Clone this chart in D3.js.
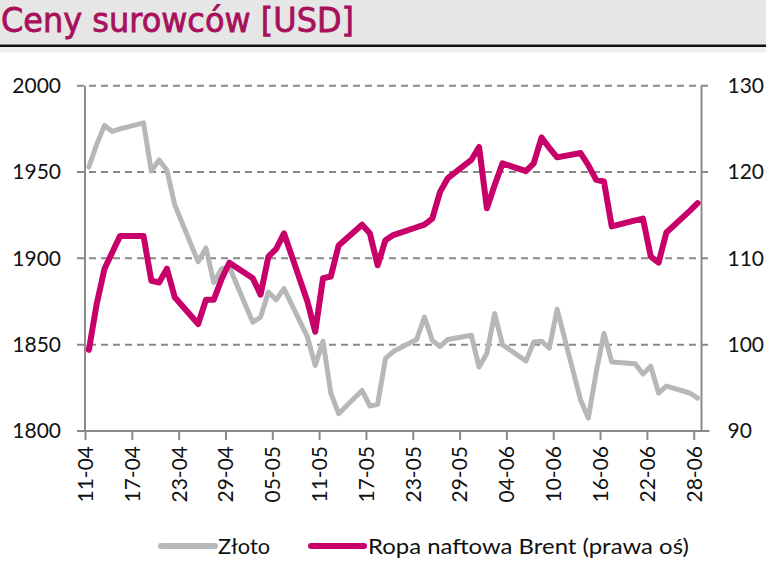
<!DOCTYPE html>
<html>
<head>
<meta charset="utf-8">
<script src="https://cdn.jsdelivr.net/npm/d3@7"></script>
<style>
  html, body { margin: 0; padding: 0; background: #fff; }
  svg { display: block; }
</style>
</head>
<body>
<svg id="chart" width="766" height="580"></svg>
<script>
// ---- data ----
const dates = [
  "2022-04-11","2022-04-12","2022-04-13","2022-04-14","2022-04-15",
  "2022-04-18","2022-04-19","2022-04-20","2022-04-21","2022-04-22",
  "2022-04-25","2022-04-26","2022-04-27","2022-04-28","2022-04-29",
  "2022-05-02","2022-05-03","2022-05-04","2022-05-05","2022-05-06",
  "2022-05-09","2022-05-10","2022-05-11","2022-05-12","2022-05-13",
  "2022-05-16","2022-05-17","2022-05-18","2022-05-19","2022-05-20",
  "2022-05-23","2022-05-24","2022-05-25","2022-05-26","2022-05-27",
  "2022-05-30","2022-05-31","2022-06-01","2022-06-02","2022-06-03",
  "2022-06-06","2022-06-07","2022-06-08","2022-06-09","2022-06-10",
  "2022-06-13","2022-06-14","2022-06-15","2022-06-16","2022-06-17",
  "2022-06-20","2022-06-21","2022-06-22","2022-06-23","2022-06-24",
  "2022-06-27","2022-06-28"
];
const gold = [
  1953, 1966, 1977, 1973.5, 1975,
  1978.5, 1950.5, 1957, 1951, 1931,
  1898, 1906, 1886, 1894, 1895,
  1863, 1866, 1880.5, 1876, 1882.5,
  1854.5, 1838, 1852, 1822, 1810,
  1823.5, 1814.5, 1815.5, 1842, 1846,
  1853, 1866, 1852.5, 1849, 1853,
  1855.5, 1837, 1845, 1868, 1850,
  1840.5, 1851.5, 1852, 1848, 1870.5,
  1818, 1807.5, 1834, 1856.5, 1840,
  1839, 1833, 1837.5, 1822, 1826,
  1822, 1819
];
const brent = [
  99.4, 104.7, 108.8, 110.7, 112.6,
  112.6, 107.4, 107.2, 108.8, 105.5,
  102.4, 105.2, 105.2, 107.6, 109.5,
  107.7, 105.8, 110.2, 111.1, 112.9,
  105.0, 101.5, 107.7, 107.9, 111.5,
  113.9, 112.9, 109.2, 112.1, 112.7,
  113.6, 113.9, 114.6, 117.7, 119.3,
  121.4, 122.9, 115.8, 118.5, 121.0,
  120.1, 121.0, 124.0, 122.8, 121.7,
  122.2, 120.8, 119.1, 118.9, 113.7,
  114.4, 114.6, 110.2, 109.5, 113.0,
  115.5, 116.4
];
const leftTicks = [1800, 1850, 1900, 1950, 2000];
const rightTicks = [90, 100, 110, 120, 130];
const xStart = "2022-04-11";
const xEnd = "2022-06-29";
const xTickStepDays = 6;
const title = "Ceny surowców [USD]";
const seriesNames = ["Złoto", "Ropa naftowa Brent (prawa oś)"];

// ---- layout ----
const W = 766, H = 580;
const plot = { left: 85, right: 701.5, top: 85.7, bottom: 431 };
const FONT = "Lato, 'Open Sans', sans-serif";
const GOLD = "#b5b7b9", BRENT = "#c8006a", AXIS = "#8a8a8a";

const svg = d3.select("#chart");
const parse = d3.utcParse("%Y-%m-%d");
const x = d3.scaleUtc().domain([parse(xStart), parse(xEnd)]).range([plot.left, plot.right]);
const yL = d3.scaleLinear().domain([1800, 2000]).range([plot.bottom, plot.top]);
const yR = d3.scaleLinear().domain([90, 130]).range([plot.bottom, plot.top]);
const mid = d => d3.utcHour.offset(parse(d), 12);

// ---- title band ----
svg.append("rect").attr("x", 0).attr("y", 0).attr("width", W).attr("height", 44.5).attr("fill", "#e6e6e6");
svg.append("rect").attr("x", 0).attr("y", 44.5).attr("width", W).attr("height", 2.6).attr("fill", "#111");
svg.append("rect").attr("x", 0).attr("y", 47.1).attr("width", W).attr("height", 5.5).attr("fill", "#efefef");
svg.append("text").attr("x", 1).attr("y", 31.5)
  .attr("font-family", "'DejaVu Sans', Verdana, sans-serif").attr("font-size", 33.5)
  .attr("stroke", "#a8105c").attr("stroke-width", 0.8)
  .attr("textLength", 353).attr("lengthAdjust", "spacingAndGlyphs")
  .attr("fill", "#a8105c").text(title);

// ---- gridlines ----
const g = svg.append("g");
g.selectAll("line.grid").data(leftTicks.filter(v => v !== 1800)).join("line")
  .attr("class", "grid")
  .attr("x1", plot.left - 8).attr("x2", plot.right + 8)
  .attr("y1", d => yL(d)).attr("y2", d => yL(d))
  .attr("stroke", AXIS).attr("stroke-width", 2).attr("stroke-dasharray", "7,5");

// ---- axes ----
const axisL = d3.axisLeft(yL).tickValues(leftTicks).tickFormat(d3.format("d")).tickSize(0).tickPadding(24);
const aL = svg.append("g").attr("transform", `translate(${plot.left},0)`).call(axisL);
const axisR = d3.axisRight(yR).tickValues(rightTicks).tickFormat(d3.format("d")).tickSize(0).tickPadding(26);
const aR = svg.append("g").attr("transform", `translate(${plot.right},0)`).call(axisR);
const xTicks = d3.utcDay.range(parse(xStart), parse(xEnd), 1)
  .filter((d, i) => i % xTickStepDays === 0);
const axisB = d3.axisBottom(x).tickValues(xTicks).tickFormat(d3.utcFormat("%d-%m")).tickSize(9).tickPadding(6);
const aB = svg.append("g").attr("transform", `translate(0,${plot.bottom})`).call(axisB);

[aL, aR, aB].forEach(a => {
  a.select(".domain").remove();
  a.selectAll("text").attr("font-family", FONT).attr("font-size", 21).attr("fill", "#111");
  a.selectAll("line").attr("stroke", AXIS).attr("stroke-width", 2);
});
aB.selectAll("text")
  .attr("transform", "rotate(-90)")
  .attr("text-anchor", "end")
  .attr("dy", "0.35em")
  .attr("x", -15).attr("y", 0);

// axis lines
svg.append("line").attr("x1", plot.left - 8).attr("x2", plot.right + 8)
  .attr("y1", plot.bottom).attr("y2", plot.bottom).attr("stroke", AXIS).attr("stroke-width", 2);
svg.append("line").attr("x1", plot.left).attr("x2", plot.left)
  .attr("y1", plot.top).attr("y2", plot.bottom).attr("stroke", AXIS).attr("stroke-width", 2);
svg.append("line").attr("x1", plot.right).attr("x2", plot.right)
  .attr("y1", plot.top).attr("y2", plot.bottom).attr("stroke", AXIS).attr("stroke-width", 2);

// ---- series ----
const lineGold = d3.line().x((d, i) => x(mid(dates[i]))).y(d => yL(d));
const lineBrent = d3.line().x((d, i) => x(mid(dates[i]))).y(d => yR(d));
svg.append("path").datum(gold).attr("d", lineGold)
  .attr("fill", "none").attr("stroke", GOLD).attr("stroke-width", 5)
  .attr("stroke-linejoin", "round").attr("stroke-linecap", "round");
svg.append("path").datum(brent).attr("d", lineBrent)
  .attr("fill", "none").attr("stroke", BRENT).attr("stroke-width", 6)
  .attr("stroke-linejoin", "round").attr("stroke-linecap", "round");

// ---- legend ----
const legend = [
  { name: seriesNames[0], color: GOLD, x1: 161, x2: 215, tx: 218, len: 52 },
  { name: seriesNames[1], color: BRENT, x1: 311, x2: 364, tx: 368, len: 321 }
];
const lg = svg.append("g");
legend.forEach(l => {
  lg.append("line").attr("x1", l.x1).attr("x2", l.x2).attr("y1", 546).attr("y2", 546)
    .attr("stroke", l.color).attr("stroke-width", 6).attr("stroke-linecap", "round");
  lg.append("text").attr("x", l.tx).attr("y", 554)
    .attr("font-family", FONT).attr("font-size", 22).attr("fill", "#111")
    .attr("textLength", l.len).attr("lengthAdjust", "spacingAndGlyphs").text(l.name);
});
</script>
</body>
</html>
